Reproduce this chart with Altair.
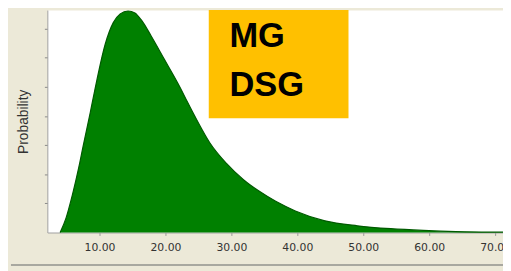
import altair as alt
import pandas as pd

# distribution curve
x_vals = [4.03, 4.93, 5.67, 6.42, 7.01, 7.46, 8.61, 9.60, 10.85, 12.09, 13.13, 14.33,
          15.37, 16.31, 17.81, 19.81, 22.28, 23.28, 24.78, 26.72, 29.25, 31.79, 34.18,
          36.72, 39.70, 44.18, 49.10, 54.18, 59.10, 64.03, 71.19]
y_vals = [0.0, 0.50, 1.10, 1.80, 2.40, 2.90, 4.13, 5.23, 6.45, 7.20, 7.50, 7.60,
          7.53, 7.30, 6.75, 5.95, 4.95, 4.50, 3.85, 3.08, 2.37, 1.82, 1.42,
          1.07, 0.74, 0.40, 0.23, 0.13, 0.07, 0.03, 0.01]
x_ticks = [10, 20, 30, 40, 50, 60, 70]
y_ticks = [1, 2, 3, 4, 5, 6, 7]
label_lines = ["MG", "DSG"]
label_pos = [0, 1]

df = pd.DataFrame({"x": x_vals, "y": y_vals})

area = alt.Chart(df).mark_area(
    color="#008000", opacity=1, interpolate="monotone",
    line={"color": "#005a00", "strokeWidth": 1.2}
).encode(
    x=alt.X("x:Q", scale=alt.Scale(domain=[2.09, 71.19], nice=False, zero=False),
            axis=alt.Axis(values=x_ticks, format=".2f", title=None, grid=False,
                          tickSize=3, labelPadding=6, labelFont="DejaVu Sans",
                          labelFontSize=11, labelColor="#333333", tickColor="#999999",
                          domainColor="#a0a0a0", labelOverlap=False)),
    y=alt.Y("y:Q", scale=alt.Scale(domain=[0, 7.63], nice=False),
            axis=alt.Axis(values=y_ticks, labels=False, title="Probability", grid=False,
                          tickSize=3, tickColor="#888888", domainColor="#a0a0a0",
                          titleFont="Liberation Sans", titleFontSize=14,
                          titleFontWeight="normal", titleColor="#333333",
                          titlePadding=14))
)

box = alt.Chart(pd.DataFrame({"a": [0]})).mark_rect(color="#FFC000").encode(
    x=alt.value(164), x2=alt.value(306), y=alt.value(0), y2=alt.value(110)
)

txt_df = pd.DataFrame({"t": label_lines, "pos": label_pos})
txt = alt.Chart(txt_df).mark_text(
    align="left", baseline="alphabetic", font="Liberation Sans",
    fontWeight="bold", fontSize=35, color="#000000"
).encode(
    text="t:N",
    x=alt.value(185),
    y=alt.Y("pos:Q", scale=alt.Scale(domain=[0, 1], range=[37, 87]), axis=None)
)

bottom_line = alt.Chart(pd.DataFrame({"a": [0]})).mark_rule(
    color="#a8a8a0", strokeWidth=2
).encode(x=alt.value(-37), x2=alt.value(470), y=alt.value(259))

chart = alt.layer(area, box, txt, bottom_line).resolve_scale(y="independent").properties(
    width=463, height=226,
    autosize=alt.AutoSizeParams(type="none"),
    padding={"left": 40, "top": 0, "right": 0, "bottom": 37},
    background="#ECE9D8"
).configure_view(fill="#FFFFFF", stroke="transparent")

chart.save("out.html", embed_options={"renderer": "svg", "actions": False})
